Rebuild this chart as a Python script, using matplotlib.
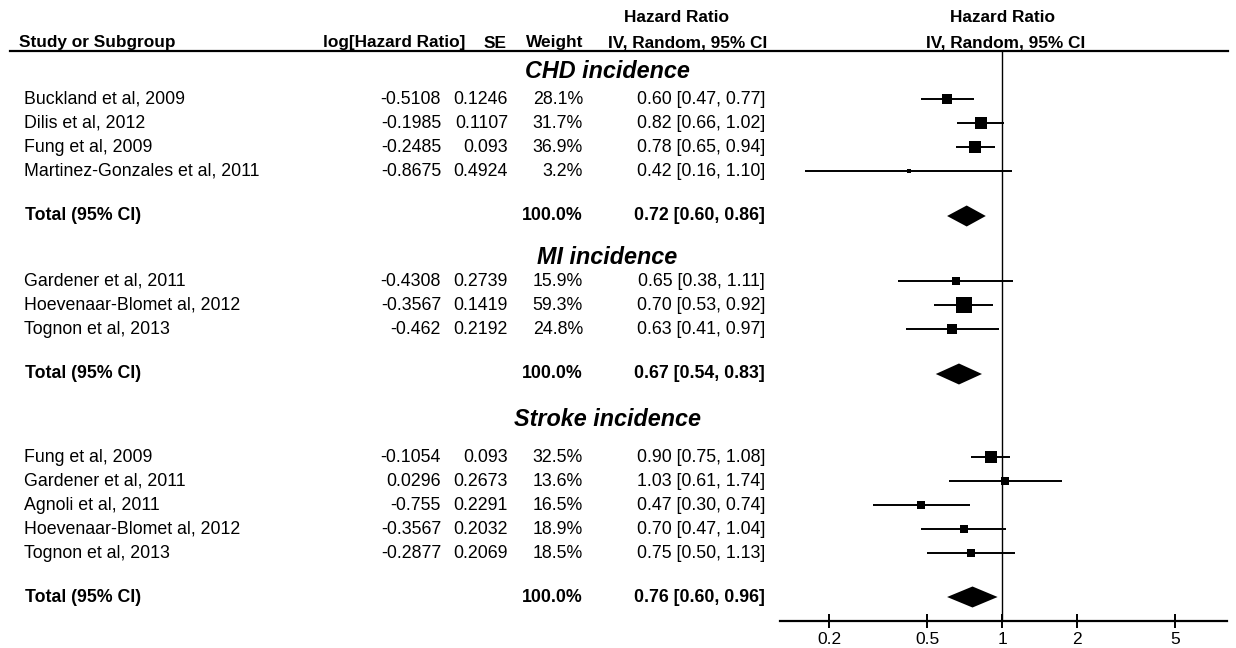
"""Forest plot: Mediterranean diet and CHD / MI / stroke incidence (RevMan style)."""

import matplotlib

matplotlib.use("Agg")
import matplotlib.pyplot as plt
import numpy as np

# ---- data ----
GROUP_TITLES = ["CHD incidence", "MI incidence", "Stroke incidence"]

CHD_STUDIES = ["Buckland et al, 2009", "Dilis et al, 2012", "Fung et al, 2009",
               "Martinez-Gonzales et al, 2011"]
CHD_LOGHR = [-0.5108, -0.1985, -0.2485, -0.8675]
CHD_SE = [0.1246, 0.1107, 0.093, 0.4924]
CHD_WEIGHT = [28.1, 31.7, 36.9, 3.2]
CHD_HR = [0.60, 0.82, 0.78, 0.42]
CHD_LO = [0.47, 0.66, 0.65, 0.16]
CHD_HI = [0.77, 1.02, 0.94, 1.10]
CHD_TOTAL = [0.72, 0.60, 0.86]

MI_STUDIES = ["Gardener et al, 2011", "Hoevenaar-Blomet al, 2012", "Tognon et al, 2013"]
MI_LOGHR = [-0.4308, -0.3567, -0.462]
MI_SE = [0.2739, 0.1419, 0.2192]
MI_WEIGHT = [15.9, 59.3, 24.8]
MI_HR = [0.65, 0.70, 0.63]
MI_LO = [0.38, 0.53, 0.41]
MI_HI = [1.11, 0.92, 0.97]
MI_TOTAL = [0.67, 0.54, 0.83]

STROKE_STUDIES = ["Fung et al, 2009", "Gardener et al, 2011", "Agnoli et al, 2011",
                  "Hoevenaar-Blomet al, 2012", "Tognon et al, 2013"]
STROKE_LOGHR = [-0.1054, 0.0296, -0.755, -0.3567, -0.2877]
STROKE_SE = [0.093, 0.2673, 0.2291, 0.2032, 0.2069]
STROKE_WEIGHT = [32.5, 13.6, 16.5, 18.9, 18.5]
STROKE_HR = [0.90, 1.03, 0.47, 0.70, 0.75]
STROKE_LO = [0.75, 0.61, 0.30, 0.47, 0.50]
STROKE_HI = [1.08, 1.74, 0.74, 1.04, 1.13]
STROKE_TOTAL = [0.76, 0.60, 0.96]

TICKS = [0.2, 0.5, 1, 2, 5]
TICK_LABELS = ["0.2", "0.5", "1", "2", "5"]

GROUPS = [
    (CHD_STUDIES, CHD_LOGHR, CHD_SE, CHD_WEIGHT, CHD_HR, CHD_LO, CHD_HI, CHD_TOTAL),
    (MI_STUDIES, MI_LOGHR, MI_SE, MI_WEIGHT, MI_HR, MI_LO, MI_HI, MI_TOTAL),
    (STROKE_STUDIES, STROKE_LOGHR, STROKE_SE, STROKE_WEIGHT, STROKE_HR, STROKE_LO,
     STROKE_HI, STROKE_TOTAL),
]

# ---- layout (pixels, y measured from the top) ----
W, H = 1236, 648
HEAD_Y = [72, 257, 420]
FIRST_Y = [99, 281, 457]
TOTAL_Y = [216, 374, 597]
ROW_STEP = 24

X_NAME = 24
X_LOGHR = 441
X_SE = 508
X_WEIGHT = 583
X_CI = 765
X_GROUP = 607

PLOT_LEFT, PLOT_RIGHT = 780, 1227
PLOT_TOP, AXIS_Y = 51, 621
X_ONE = 1002
PX_PER_DECADE = 247.5

FONT = "Liberation Sans"
FS = 12.8
FS_HEAD = 12.4

plt.rcParams["font.family"] = [FONT, "DejaVu Sans"]

fig = plt.figure(figsize=(W / 100, H / 100), dpi=100)
ax = fig.add_axes([0, 0, 1, 1])
ax.set_xlim(0, W)
ax.set_ylim(H, 0)
ax.axis("off")

fx = fig.add_axes([PLOT_LEFT / W, (H - AXIS_Y) / H,
                   (PLOT_RIGHT - PLOT_LEFT) / W, (AXIS_Y - PLOT_TOP) / H])
fx.set_xscale("log")
fx.set_xlim(10 ** ((PLOT_LEFT - X_ONE) / PX_PER_DECADE),
            10 ** ((PLOT_RIGHT - X_ONE) / PX_PER_DECADE))
fx.set_ylim(AXIS_Y, PLOT_TOP)
fx.patch.set_visible(False)
for side in ("top", "left", "right"):
    fx.spines[side].set_visible(False)
fx.spines["bottom"].set_linewidth(1.6)
fx.set_yticks([])
fx.set_xticks(TICKS)
fx.set_xticklabels(TICK_LABELS)
fx.xaxis.set_minor_locator(matplotlib.ticker.NullLocator())
fx.tick_params(axis="x", direction="inout", length=10, width=1.4, labelsize=12.5, pad=3)
fx.axvline(1, color="black", lw=1.0)


def txt(x, y, s, ha="left", bold=False, italic=False, size=FS):
    ax.text(x, y, s, ha=ha, va="center", fontsize=size,
            fontweight="bold" if bold else "normal",
            fontstyle="italic" if italic else "normal", color="black")


# header
txt(19, 43, "Study or Subgroup", bold=True, size=FS_HEAD)
txt(465, 43, "log[Hazard Ratio]", ha="right", bold=True, size=FS_HEAD)
txt(X_SE - 1, 43, "SE", ha="right", bold=True, size=FS_HEAD)
txt(X_WEIGHT, 43, "Weight", ha="right", bold=True, size=FS_HEAD)
txt(677, 18, "Hazard Ratio", ha="center", bold=True, size=FS_HEAD)
txt(688, 43, "IV, Random, 95% CI", ha="center", bold=True, size=FS_HEAD)
txt(X_ONE + 1, 18, "Hazard Ratio", ha="center", bold=True, size=FS_HEAD)
txt(X_ONE + 4, 43, "IV, Random, 95% CI", ha="center", bold=True, size=FS_HEAD)
ax.plot([10, 1228], [PLOT_TOP, PLOT_TOP], color="black", lw=1.6)

for g, (names, loghr, se, weight, hr, lo, hi, total) in enumerate(GROUPS):
    txt(X_GROUP, HEAD_Y[g], GROUP_TITLES[g], ha="center", bold=True, italic=True, size=16.8)
    for i, name in enumerate(names):
        y = FIRST_Y[g] + i * ROW_STEP
        txt(X_NAME, y, name)
        txt(X_LOGHR, y, str(loghr[i]), ha="right")
        txt(X_SE, y, str(se[i]), ha="right")
        txt(X_WEIGHT, y, f"{weight[i]:.1f}%", ha="right")
        txt(X_CI, y, f"{hr[i]:.2f} [{lo[i]:.2f}, {hi[i]:.2f}]", ha="right")
        fx.plot([lo[i], hi[i]], [y, y], color="black", lw=1.4, solid_capstyle="butt")
        side_px = 2.0 * np.sqrt(weight[i])
        fx.plot([hr[i]], [y], marker="s", color="black", markeredgewidth=0,
                markersize=side_px * 0.72)
    yt = TOTAL_Y[g]
    txt(X_NAME + 1, yt, "Total (95% CI)", bold=True)
    txt(X_WEIGHT, yt, "100.0%", ha="right", bold=True)
    est, tlo, thi = total
    txt(X_CI, yt, f"{est:.2f} [{tlo:.2f}, {thi:.2f}]", ha="right", bold=True)
    fx.fill([tlo, est, thi, est], [yt, yt - 10.5, yt, yt + 10.5], color="black", lw=0)

fig.savefig("out.png", dpi=100)
